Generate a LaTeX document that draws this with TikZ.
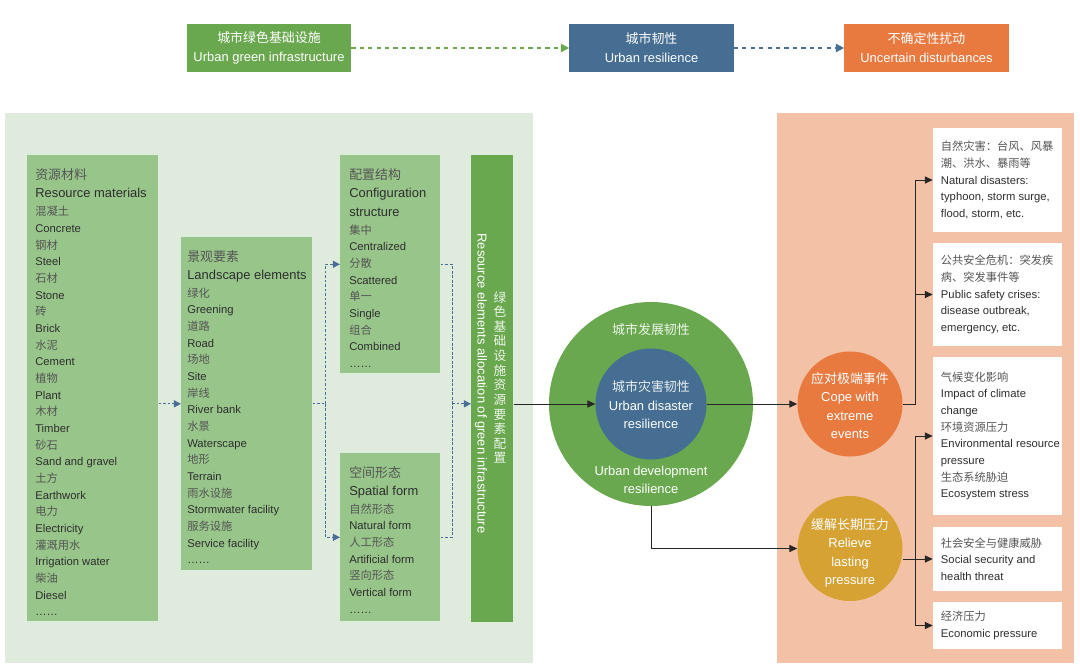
\documentclass[tikz,border=0pt]{standalone}
\usepackage{fontspec}
\setmainfont{Liberation Sans}
\newfontfamily\cjk{Noto Sans CJK SC}
\usetikzlibrary{arrows.meta,calc}
\definecolor{panelgreen}{HTML}{DFECDD}
\definecolor{boxgreen}{HTML}{98C58A}
\definecolor{darkgreen}{HTML}{6AA84F}
\definecolor{resblue}{HTML}{456E92}
\definecolor{disorange}{HTML}{E8793F}
\definecolor{salmon}{HTML}{F3C2A6}
\definecolor{gold}{HTML}{D5A233}
\definecolor{txt}{HTML}{2E2E2E}
\definecolor{zhtxt}{HTML}{555555}
\definecolor{dashblue}{HTML}{4A6F96}
\def\zh#1{{\cjk\color{zhtxt}#1}}
\def\hd#1{{\fontsize{9.2}{13.5}\selectfont #1}}
\tikzset{
	topbox/.style={minimum width=4.1cm, minimum height=1.2cm, inner sep=0, text=white, align=center, font=\fontsize{9.2}{13.5}\selectfont},
	gbox/.style={fill=boxgreen, inner sep=0, anchor=north west},
	ltext/.style={inner sep=0, align=left, anchor=north west, text=txt, font=\fontsize{8}{11.85}\selectfont},
	wbox/.style={fill=white, minimum width=3.225cm, inner sep=0},
	btext/.style={inner sep=0, align=left, anchor=west, text=txt, font=\fontsize{8}{11.85}\selectfont},
	ctext/.style={inner sep=0, align=center, text=white, font=\fontsize{9.2}{13.2}\selectfont},
	topdash/.style={line width=1pt, dash pattern=on 3pt off 3pt, -{Triangle[length=6pt,width=6pt]}},
	dconn/.style={draw=dashblue, line width=0.6pt, dash pattern=on 2pt off 1.2pt},
	tipd/.style={-{Triangle[length=5pt,width=5pt]}},
	blk/.style={draw=black!85, line width=0.6pt},
	tipb/.style={-{Triangle[length=5.5pt,width=5pt]}}
}

\begin{document}
\begin{tikzpicture}[x=0.025cm, y=-0.025cm]
			%%%%% START %%%%%
			\useasboundingbox (0, 0) rectangle (1080, 671);
			
			% top row
			\node[topbox, fill=darkgreen] (ugi) at (269, 48) {{\cjk 城市绿色基础设施}\\Urban green infrastructure};
			\node[topbox, fill=resblue] (ures) at (651.5, 48) {{\cjk 城市韧性}\\Urban resilience};
			\node[topbox, fill=disorange] (udis) at (926.5, 48) {{\cjk 不确定性扰动}\\Uncertain disturbances};
			\draw[topdash, darkgreen] (ugi) -- (ures);
			\draw[topdash, dashblue] (ures) -- (udis);
			
			% panels
			\fill[panelgreen] (5, 113) rectangle (533, 663);
			\fill[salmon] (777, 113) rectangle (1074, 663);
			
			% resource elements
			\node[gbox, minimum width=3.275cm, minimum height=11.65cm] (res) at (27, 155) {};
			\node[ltext] (rest) at ([shift={(8, 13)}]res.north west) {\hd{\zh{资源材料}}\\[1.5pt]
				\hd{Resource materials}\\[1pt]
				\zh{混凝土}\\ Concrete\\ \zh{钢材}\\ Steel\\ \zh{石材}\\ Stone\\ \zh{砖}\\ Brick\\
				\zh{水泥}\\ Cement\\ \zh{植物}\\ Plant\\ \zh{木材}\\ Timber\\ \zh{砂石}\\ Sand and gravel\\
				\zh{土方}\\ Earthwork\\ \zh{电力}\\ Electricity\\ \zh{灌溉用水}\\ Irrigation water\\
				\zh{柴油}\\ Diesel\\ ……};
			
			\node[gbox, minimum width=3.275cm, minimum height=8.325cm] (land) at (181, 237) {};
			\node[ltext] (landt) at ([shift={(6, 13.5)}]land.north west) {\hd{\zh{景观要素}}\\[0.5pt]
				\hd{Landscape elements}\\[1pt]
				\zh{绿化}\\ Greening\\ \zh{道路}\\ Road\\ \zh{场地}\\ Site\\ \zh{岸线}\\ River bank\\
				\zh{水景}\\ Waterscape\\ \zh{地形}\\ Terrain\\ \zh{雨水设施}\\ Stormwater facility\\
				\zh{服务设施}\\ Service facility\\ ……};
			
			\node[gbox, minimum width=2.5cm, minimum height=5.45cm] (conf) at (340, 155) {};
			\node[ltext] (conft) at ([shift={(9, 13)}]conf.north west) {\hd{\zh{配置结构}}\\[1.5pt]
				\hd{Configuration}\\[1.5pt] \hd{structure}\\[0.5pt]
				\zh{集中}\\ Centralized\\ \zh{分散}\\ Scattered\\ \zh{单一}\\ Single\\
				\zh{组合}\\ Combined\\ ……};
			
			\node[gbox, minimum width=2.5cm, minimum height=4.2cm] (spat) at (340, 453) {};
			\node[ltext] (spatt) at ([shift={(9, 13.5)}]spat.north west) {\hd{\zh{空间形态}}\\[1pt]
				\hd{Spatial form}\\[0.5pt]
				\zh{自然形态}\\ Natural form\\ \zh{人工形态}\\ Artificial form\\
				\zh{竖向形态}\\ Vertical form\\ ……};
			
			\node[gbox, fill=darkgreen, minimum width=1.05cm, minimum height=11.675cm] (bar) at (471, 155) {};
			\node[rotate=-90, inner sep=0, text=white, font=\fontsize{9.2}{11}\selectfont] (bareng) at (481, 383.5) {Resource elements allocation of green infrastructure};
			\node[inner sep=0, align=center, text=white!88!darkgreen, font=\cjk\fontsize{9}{10.4}\selectfont] (barzh) at (500, 377.5) {绿\\色\\基\\础\\设\\施\\资\\源\\要\\素\\配\\置};
			
			% dashed links
			\draw[dconn, tipd] (res.east |- land.west) -- (land.west);
			\draw[dconn] (land.east) -- ++(13, 0) coordinate (lsplit);
			\draw[dconn, tipd] (lsplit) |- (conf.west);
			\draw[dconn, tipd] (lsplit) |- (spat.west);
			\coordinate (bsplit) at ($(bar.west |- land.west) + (-19, 0)$);
			\draw[dconn] (conf.east) -| (bsplit);
			\draw[dconn] (spat.east) -| (bsplit);
			\draw[dconn, tipd] (bsplit) -- (bar.west |- bsplit);
			
			% resilience circles
			\node[circle, fill=darkgreen, minimum size=5.1cm, inner sep=0] (dev) at (651, 404) {};
			\node[circle, fill=resblue, minimum size=2.775cm, inner sep=0] (dis) at (651, 404) {};
			\node[ctext, text=white!88!darkgreen] (devzh) at (651, 330) {{\cjk 城市发展韧性}};
			\node[ctext] (deven) at (651, 480) {Urban development\\resilience};
			\node[ctext] (dist) at (651, 405) {{\cjk\color{white!88!resblue}城市灾害韧性}\\Urban disaster\\resilience};
			
			\node[circle, fill=disorange, minimum size=2.625cm, inner sep=0] (cope) at (850, 404) {};
			\node[ctext] (copet) at (850, 405.5) {{\cjk 应对极端事件}\\Cope with\\extreme\\events};
			\node[circle, fill=gold, minimum size=2.625cm, inner sep=0] (rel) at (850, 548.5) {};
			\node[ctext] (relt) at (850, 553) {{\cjk 缓解长期压力}\\Relieve\\lasting\\pressure};
			
			% disturbance boxes
			\node[wbox, minimum height=2.6cm] (b1) at (997.5, 180) {};
			\node[btext] (b1t) at ([xshift=0.2cm]b1.west) {\zh{自然灾害：台风、风暴}\\ \zh{潮、洪水、暴雨等}\\ Natural disasters:\\ typhoon, storm surge,\\ flood, storm, etc.};
			\node[wbox, minimum height=2.575cm] (b2) at (997.5, 294.5) {};
			\node[btext] (b2t) at ([xshift=0.2cm]b2.west) {\zh{公共安全危机：突发疾}\\ \zh{病、突发事件等}\\ Public safety crises:\\ disease outbreak,\\ emergency, etc.};
			\node[wbox, minimum height=3.95cm] (b3) at (997.5, 436) {};
			\node[btext] (b3t) at ([xshift=0.2cm]b3.west) {\zh{气候变化影响}\\ Impact of climate\\ change\\ \zh{环境资源压力}\\ Environmental resource\\ pressure\\ \zh{生态系统胁迫}\\ Ecosystem stress};
			\node[wbox, minimum height=1.6cm] (b4) at (997.5, 559) {};
			\node[btext] (b4t) at ([xshift=0.2cm]b4.west) {\zh{社会安全与健康威胁}\\ Social security and\\ health threat};
			\node[wbox, minimum height=1.175cm] (b5) at (997.5, 625.5) {};
			\node[btext] (b5t) at ([xshift=0.2cm]b5.west) {\zh{经济压力}\\ Economic pressure};
			
			% solid links
			\draw[blk, tipb] (bar.east |- dis.west) -- (dis.west);
			\draw[blk, tipb] (dis.east) -- (cope.west);
			\draw[blk, tipb] (dev.south) |- (rel.west);
			\draw[blk] (cope.east) -- ++(13, 0) coordinate (csplit);
			\draw[blk, tipb] (csplit) |- (b1.west);
			\draw[blk, tipb] (csplit) |- (b2.west);
			\coordinate (rsplit) at (csplit |- b4.west);
			\draw[blk, tipb] (rel.east |- b4.west) -- (b4.west);
			\draw[blk, tipb] (rsplit) |- (b3.west);
			\draw[blk, tipb] (rsplit) |- (b5.west);
			
			%%%%% END %%%%%
		\end{tikzpicture}
\end{document}
